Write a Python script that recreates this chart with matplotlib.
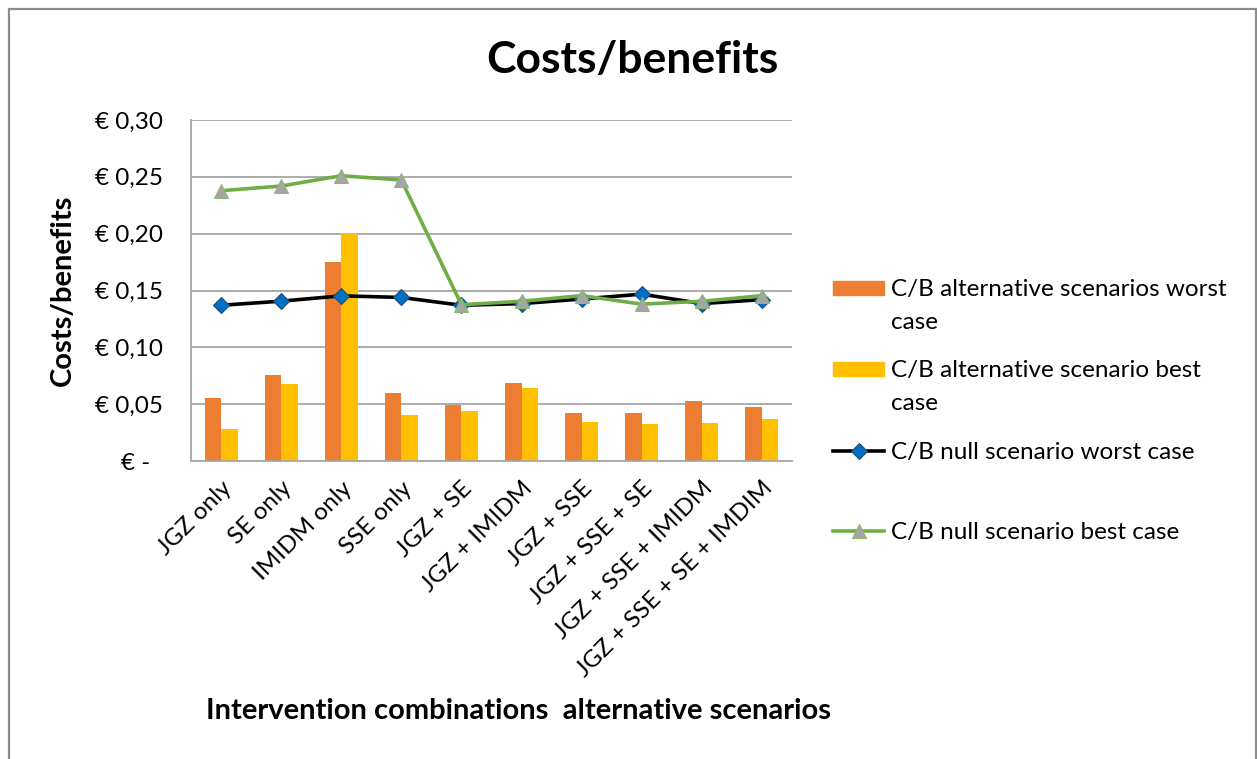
import numpy as np
import matplotlib
matplotlib.use("Agg")
import matplotlib.pyplot as plt
from matplotlib.lines import Line2D
from matplotlib.patches import Rectangle
from matplotlib.ticker import FixedLocator, FuncFormatter

plt.rcParams['font.family'] = ['Lato', 'DejaVu Sans']

categories = ["JGZ only", "SE only", "IMIDM only", "SSE only", "JGZ + SE",
              "JGZ + IMIDM", "JGZ + SSE", "JGZ + SSE + SE", "JGZ + SSE + IMIDM",
              "JGZ + SSE + SE + IMDIM"]
alt_worst = [0.0555, 0.0757, 0.1750, 0.0599, 0.0493, 0.0686, 0.0423, 0.0423, 0.0527, 0.0479]
alt_best = [0.0282, 0.0678, 0.2008, 0.0408, 0.0440, 0.0639, 0.0343, 0.0322, 0.0334, 0.0367]
null_worst = [0.1370, 0.1406, 0.1453, 0.1439, 0.1370, 0.1385, 0.1425, 0.1468, 0.1385, 0.1420]
null_best = [0.2378, 0.2419, 0.2510, 0.2472, 0.1375, 0.1405, 0.1455, 0.1380, 0.1405, 0.1455]
yticks = [0.0, 0.05, 0.10, 0.15, 0.20, 0.25, 0.30]

legend_labels = ["C/B alternative scenarios worst\ncase",
                 "C/B alternative scenario best\ncase",
                 "C/B null scenario worst case",
                 "C/B null scenario best case"]

ORANGE = "#ED7D31"
YELLOW = "#FFC000"
GREEN = "#70AD47"
BLUE = "#0070C0"
GRID = "#A6A6A6"
FS = 17.5

W, H = 1257, 759
fig = plt.figure(figsize=(W / 100, H / 100), dpi=100)


def fx(px):
    return px / W


def fy(py):
    return 1 - py / H


# outer chart border
fig.add_artist(Rectangle((fx(8.5), fy(765)), fx(1255.5) - fx(8.5), fy(8.5) - fy(765),
                         transform=fig.transFigure, fill=False,
                         edgecolor="#8C8C8C", linewidth=1.6))

ax = fig.add_axes([fx(191), fy(461), fx(792) - fx(191), fy(120) - fy(461)])
x = np.arange(len(categories))
bw = 0.275
ax.bar(x - bw / 2, alt_worst, bw, color=ORANGE, zorder=2)
ax.bar(x + bw / 2, alt_best, bw, color=YELLOW, zorder=2)
ax.plot(x, null_worst, color="black", linewidth=2.6, marker="D", markersize=8,
        markerfacecolor=BLUE, markeredgecolor="#1F4E79", markeredgewidth=0.8, zorder=3)
ax.plot(x, null_best, color=GREEN, linewidth=2.6, marker="^", markersize=10,
        markerfacecolor="#A5A5A5", markeredgecolor="#8CB870", markeredgewidth=0.8, zorder=4)

ax.set_xlim(-0.5, len(categories) - 0.5)
ax.set_ylim(0, 0.30)
ax.yaxis.set_major_locator(FixedLocator(yticks))


def euro(v, pos):
    if abs(v) < 1e-9:
        return "€ -  "
    return "€ " + f"{v:.2f}".replace(".", ",")


ax.yaxis.set_major_formatter(FuncFormatter(euro))
ax.grid(axis="y", color=GRID, linewidth=1.3, zorder=0)
ax.set_axisbelow(True)
for s in ["top", "right"]:
    ax.spines[s].set_visible(False)
for s in ["left", "bottom"]:
    ax.spines[s].set_color(GRID)
    ax.spines[s].set_linewidth(1.3)
ax.tick_params(axis="both", length=0, labelsize=FS, colors="black")
ax.tick_params(axis="y", pad=20)
ax.set_xticks(x)
ax.set_xticklabels(categories, rotation=45, ha="right", va="top",
                   rotation_mode="anchor")
ax.tick_params(axis="x", pad=12)

fig.text(fx(63), fy(290), "Costs/benefits", fontsize=21, fontweight="bold",
         rotation=90, ha="center", va="center")
fig.text(fx(632), fy(60), "Costs/benefits", fontsize=32, fontweight="bold",
         ha="center", va="center")
fig.text(fx(518), fy(711), "Intervention combinations  alternative scenarios",
         fontsize=21, fontweight="bold", ha="center", va="center")

# legend
hx0, hx1 = fx(833), fx(884)
tx = fx(891)
handle_y = [288, 369, 451, 531]
for i, (lab, yy) in enumerate(zip(legend_labels, handle_y)):
    if i == 0 or i == 1:
        col = ORANGE if i == 0 else YELLOW
        fig.add_artist(Rectangle((hx0, fy(yy + 7)), hx1 - hx0, fy(yy - 7) - fy(yy + 7),
                                 transform=fig.transFigure, color=col))
    elif i == 2:
        fig.add_artist(Line2D([hx0, hx1], [fy(yy), fy(yy)], transform=fig.transFigure,
                              color="black", linewidth=2.6))
        fig.add_artist(Line2D([(hx0 + hx1) / 2], [fy(yy)], transform=fig.transFigure,
                              linestyle="none", marker="D", markersize=8,
                              markerfacecolor=BLUE, markeredgecolor="#1F4E79",
                              markeredgewidth=0.8))
    else:
        fig.add_artist(Line2D([hx0, hx1], [fy(yy), fy(yy)], transform=fig.transFigure,
                              color=GREEN, linewidth=2.6))
        fig.add_artist(Line2D([(hx0 + hx1) / 2], [fy(yy)], transform=fig.transFigure,
                              linestyle="none", marker="^", markersize=10,
                              markerfacecolor="#A5A5A5", markeredgecolor="#8CB870",
                              markeredgewidth=0.8))
    for j, line in enumerate(lab.split("\n")):
        fig.text(tx, fy(yy + 2 + 32 * j), line, fontsize=FS, ha="left", va="center")

fig.savefig("out.png", dpi=100)
